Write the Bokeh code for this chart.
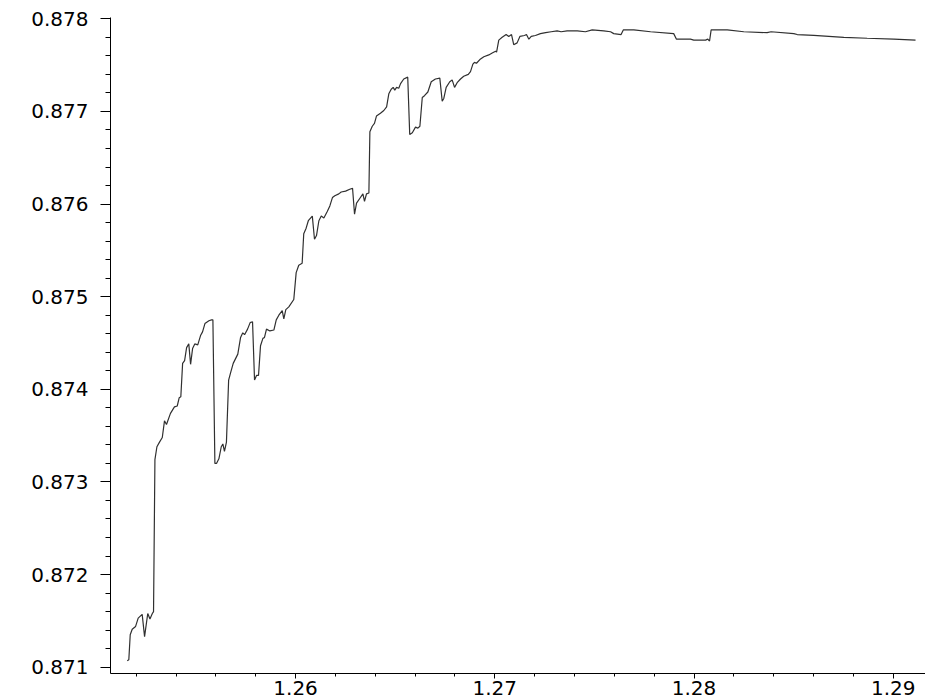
from bokeh.plotting import figure
from bokeh.models import Range1d, SingleIntervalTicker, PrintfTickFormatter, ColumnDataSource
from bokeh.embed import file_html
from bokeh.resources import INLINE

# ---- data ----
x_vals = [
    1.25155, 1.25163, 1.25170, 1.25180, 1.25197, 1.25210, 1.25230, 1.25242, 1.25258, 1.25269,
    1.25281, 1.25287, 1.25294, 1.25304, 1.25317, 1.25331, 1.25342, 1.25352, 1.25372, 1.25392,
    1.25406, 1.25416, 1.25424, 1.25433, 1.25443, 1.25453, 1.25464, 1.25473, 1.25483, 1.25494,
    1.25509, 1.25523, 1.25533, 1.25545, 1.25565, 1.25578, 1.25585, 1.25595, 1.25603, 1.25615,
    1.25627, 1.25635, 1.25643, 1.25653, 1.25664, 1.25674, 1.25687, 1.25710, 1.25724, 1.25735,
    1.25744, 1.25759, 1.25772, 1.25784, 1.25794, 1.25804, 1.25814, 1.25824, 1.25836, 1.25844,
    1.25854, 1.25871, 1.25891, 1.25903, 1.25916, 1.25933, 1.25941, 1.25951, 1.25966, 1.25991,
    1.26003, 1.26016, 1.26033, 1.26041, 1.26053, 1.26064, 1.26084, 1.26095, 1.26105, 1.26117,
    1.26129, 1.26142, 1.26159, 1.26172, 1.26185, 1.26197, 1.26217, 1.26229, 1.26251, 1.26272,
    1.26286, 1.26296, 1.26306, 1.26322, 1.26338, 1.26346, 1.26356, 1.26368, 1.26373, 1.26385,
    1.26396, 1.26406, 1.26426, 1.26443, 1.26457, 1.26468, 1.26480, 1.26490, 1.26498, 1.26507,
    1.26518, 1.26527, 1.26543, 1.26563, 1.26573, 1.26586, 1.26602, 1.26614, 1.26624, 1.26636,
    1.26647, 1.26664, 1.26681, 1.26702, 1.26724, 1.26736, 1.26744, 1.26756, 1.26774, 1.26786,
    1.26798, 1.26811, 1.26828, 1.26844, 1.26867, 1.26878, 1.26890, 1.26898, 1.26908, 1.26925,
    1.26945, 1.26970, 1.26987, 1.27004, 1.27009, 1.27020, 1.27037, 1.27057, 1.27070, 1.27084,
    1.27095, 1.27112, 1.27126, 1.27149, 1.27159, 1.27171, 1.27183, 1.27204, 1.27229, 1.27255,
    1.27283, 1.27313, 1.27333, 1.27363, 1.27414, 1.27455, 1.27489, 1.27547, 1.27581, 1.27597,
    1.27634, 1.27645, 1.27698, 1.27782, 1.27898, 1.27912, 1.27982, 1.27999, 1.28058, 1.28069,
    1.28078, 1.28086, 1.28167, 1.28250, 1.28367, 1.28387, 1.28501, 1.28518, 1.28601, 1.28752,
    1.28869, 1.29003, 1.29112,
]
y_vals = [
    0.87107, 0.87108, 0.87135, 0.87141, 0.87144, 0.87153, 0.87157, 0.87133, 0.87158, 0.87152,
    0.87158, 0.87160, 0.87324, 0.87338, 0.87343, 0.87348, 0.87366, 0.87362, 0.87374, 0.87381,
    0.87382, 0.87391, 0.87392, 0.87428, 0.87431, 0.87445, 0.87449, 0.87427, 0.87444, 0.87449,
    0.87448, 0.87458, 0.87462, 0.87471, 0.87474, 0.87475, 0.87475, 0.87320, 0.87320, 0.87325,
    0.87338, 0.87341, 0.87333, 0.87343, 0.87410, 0.87418, 0.87428, 0.87438, 0.87456, 0.87461,
    0.87459, 0.87465, 0.87472, 0.87473, 0.87410, 0.87415, 0.87415, 0.87447, 0.87455, 0.87456,
    0.87465, 0.87463, 0.87464, 0.87475, 0.87480, 0.87485, 0.87476, 0.87486, 0.87489, 0.87497,
    0.87526, 0.87534, 0.87536, 0.87568, 0.87574, 0.87582, 0.87587, 0.87562, 0.87566, 0.87582,
    0.87587, 0.87585, 0.87592, 0.87598, 0.87607, 0.87609, 0.87611, 0.87613, 0.87614, 0.87616,
    0.87617, 0.87589, 0.87601, 0.87606, 0.87611, 0.87603, 0.87611, 0.87612, 0.87678, 0.87684,
    0.87687, 0.87695, 0.87698, 0.87701, 0.87705, 0.87719, 0.87724, 0.87726, 0.87723, 0.87726,
    0.87725, 0.87730, 0.87735, 0.87737, 0.87675, 0.87677, 0.87683, 0.87682, 0.87684, 0.87715,
    0.87717, 0.87721, 0.87732, 0.87735, 0.87736, 0.87711, 0.87714, 0.87726, 0.87732, 0.87734,
    0.87726, 0.87731, 0.87735, 0.87738, 0.87740, 0.87743, 0.87751, 0.87753, 0.87752, 0.87756,
    0.87759, 0.87761, 0.87763, 0.87765, 0.87764, 0.87777, 0.87780, 0.87783, 0.87781, 0.87783,
    0.87772, 0.87774, 0.87781, 0.87782, 0.87783, 0.87778, 0.87781, 0.87782, 0.87784, 0.87785,
    0.87786, 0.87787, 0.87786, 0.87787, 0.87787, 0.87786, 0.87788, 0.87787, 0.87786, 0.87784,
    0.87783, 0.87788, 0.87788, 0.87786, 0.87784, 0.87778, 0.87778, 0.87777, 0.87777, 0.87778,
    0.87776, 0.87788, 0.87788, 0.87786, 0.87785, 0.87786, 0.87784, 0.87783, 0.87782, 0.87780,
    0.87779, 0.87778, 0.87777,
]

x_tick_interval = 0.01
y_tick_interval = 0.001

source = ColumnDataSource(data=dict(x=x_vals, y=y_vals))

p = figure(
    width=925, height=698,
    output_backend="svg", toolbar_location=None,
    x_range=Range1d(1.25071, 1.29162),
    y_range=Range1d(0.870932, 0.878014),
    min_border_left=110, min_border_top=17, min_border_right=0, min_border_bottom=25,
)
p.outline_line_color = None
p.xgrid.visible = False
p.ygrid.visible = False
p.background_fill_color = "white"
p.border_fill_color = "white"

p.line("x", "y", source=source, line_color="#303030", line_width=1.2)

font = "DejaVu Sans"

xa = p.xaxis[0]
xa.ticker = SingleIntervalTicker(interval=x_tick_interval, num_minor_ticks=5)
xa.formatter = PrintfTickFormatter(format="%.2f")
xa.axis_line_color = "black"
xa.major_tick_line_color = "black"
xa.minor_tick_line_color = "black"
xa.major_tick_in = 0
xa.major_tick_out = 5
xa.minor_tick_in = 0
xa.minor_tick_out = 3
xa.major_label_text_font = font
xa.major_label_text_font_size = "20px"
xa.major_label_text_color = "black"
xa.major_label_standoff = 2

ya = p.yaxis[0]
ya.ticker = SingleIntervalTicker(interval=y_tick_interval, num_minor_ticks=5)
ya.formatter = PrintfTickFormatter(format="%.3f")
ya.axis_line_color = "black"
ya.major_tick_line_color = "black"
ya.minor_tick_line_color = "black"
ya.major_tick_in = 0
ya.major_tick_out = 10
ya.minor_tick_in = 0
ya.minor_tick_out = 5
ya.major_label_text_font = font
ya.major_label_text_font_size = "20px"
ya.major_label_text_color = "black"
ya.major_label_standoff = 12

open("out.html", "w").write(file_html(p, INLINE))
